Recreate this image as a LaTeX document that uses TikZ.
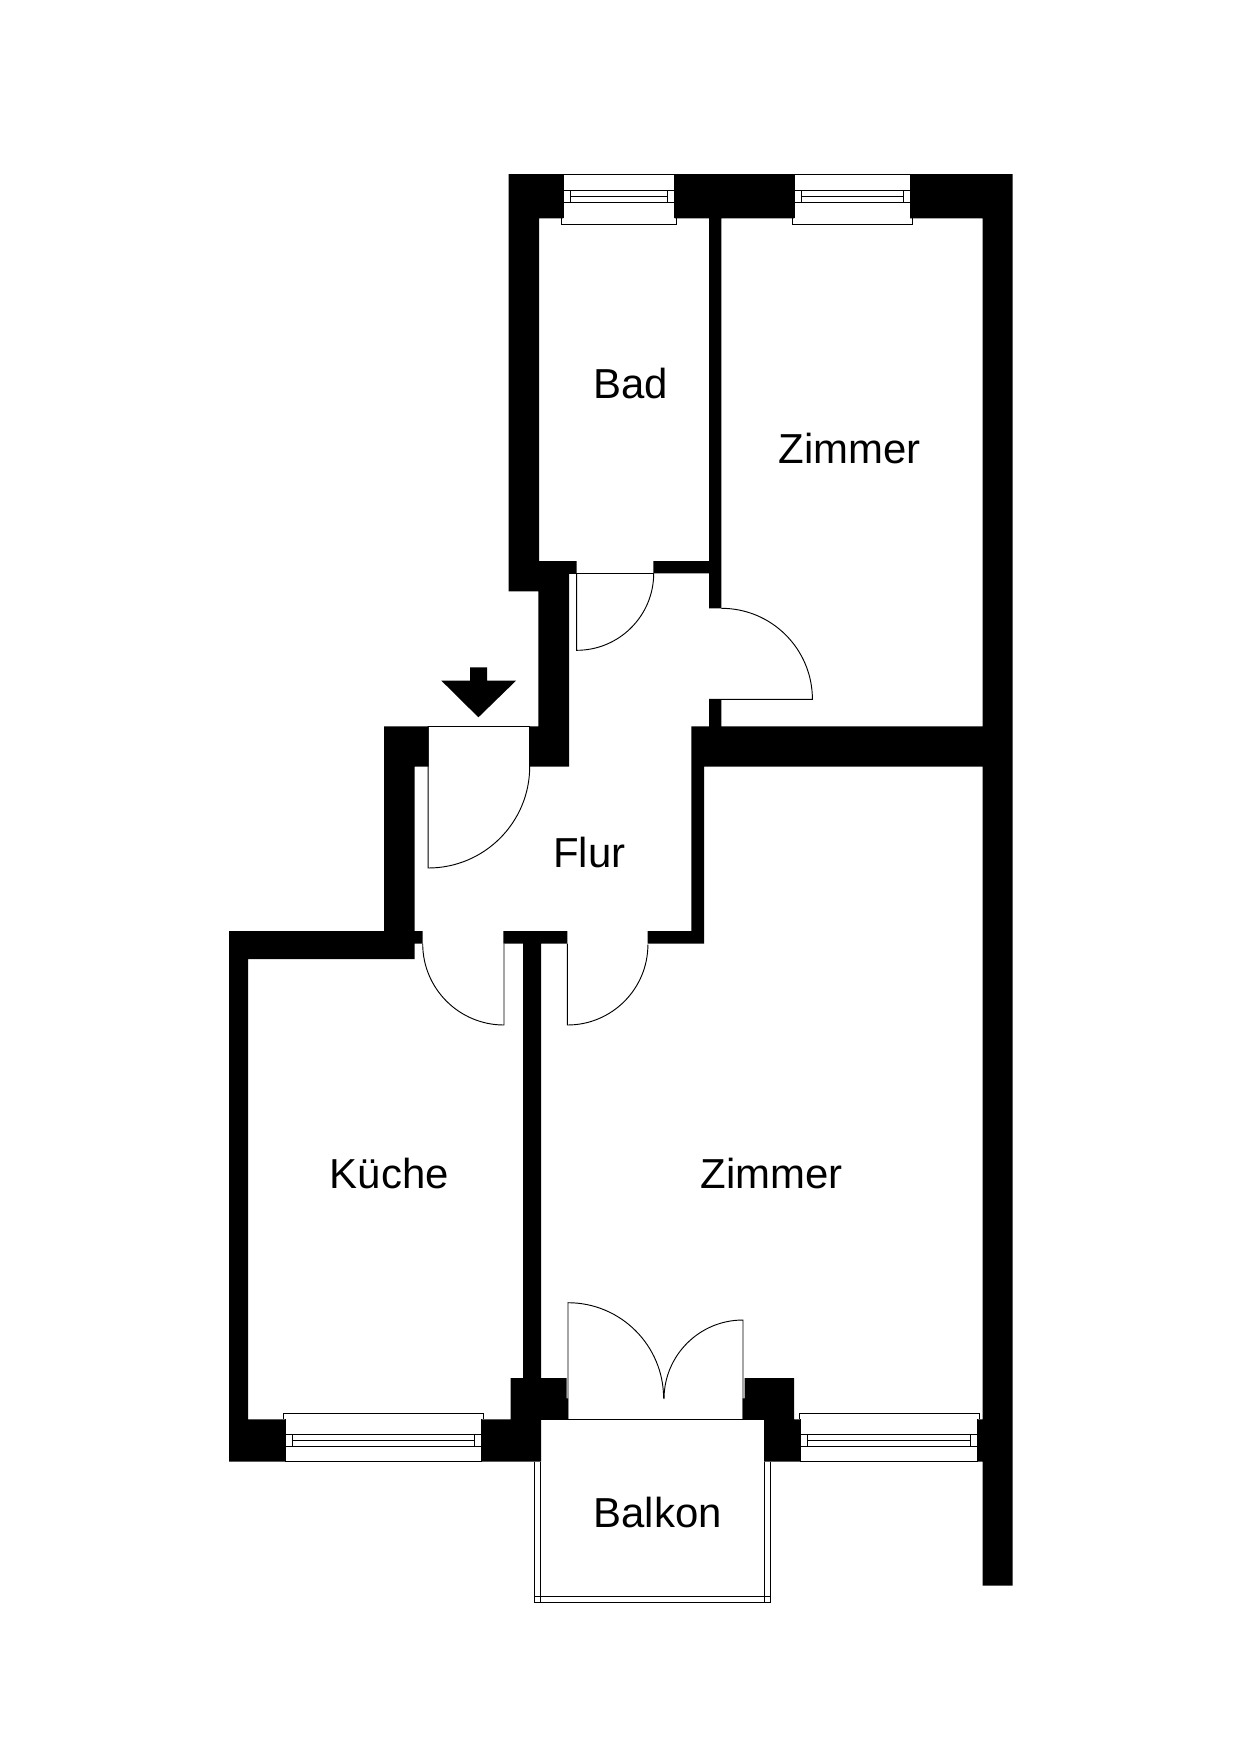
\documentclass[tikz,border=0pt]{standalone}
\usepackage{fontspec}
\setmainfont{Liberation Sans}

\tikzset{
    wall/.style={fill=black},
    thinline/.style={draw=black,line width=0.45pt},
    roomname/.style={anchor=base,font=\fontsize{20.2}{24}\selectfont},
}

\begin{document}
\begin{tikzpicture}[x=0.016933cm,y=-0.016933cm]
        \useasboundingbox (-0.7,0) rectangle (1239.3,1754);
        \fill[wall]
            (507.8,174) rectangle (562.3,218.3)
            (674,174) rectangle (793.3,218.3)
            (909.5,174) rectangle (1012,218.3)
            (981.8,174) rectangle (1012,1585.7)
            (507.8,174) rectangle (538.4,591.3)
            (507.8,561) rectangle (576,573.3)
            (652.7,561) rectangle (708.3,573.3)
            (708.3,174) rectangle (720.7,608.3)
            (708.3,699.3) rectangle (720.7,726.3)
            (537.7,561) rectangle (568.3,766.5)
            (529,726.3) rectangle (568.3,766.5)
            (690.7,726.3) rectangle (1012,766.5)
            (690.7,726.3) rectangle (703.3,943.7)
            (383.5,726.3) rectangle (428,766.5)
            (383.5,726.3) rectangle (414,959)
            (228.3,931) rectangle (414,959)
            (414,931) rectangle (422,943.7)
            (228.3,931) rectangle (247.3,1461.5)
            (502.7,931) rectangle (566.7,943.7)
            (647,931) rectangle (703.3,943.7)
            (522.5,931) rectangle (540.3,1461.5)
            (228.3,1419.3) rectangle (284.3,1461.5)
            (481,1419.3) rectangle (540.3,1461.5)
            (510,1378) rectangle (566,1419.3)
            (566,1398.3) rectangle (567.5,1419.3)
            (744,1378) rectangle (793.5,1419.3)
            (741.9,1398.3) rectangle (744,1419.3)
            (763.5,1419.3) rectangle (800,1461.5)
            (977,1419.3) rectangle (982,1461.5);
        \foreach \xa/\xb in {562.3/674,793.3/909.5}{
            \draw[thinline] (\xa,218.3) -- (\xa,174) -- (\xb,174) -- (\xb,218.3);
            \draw[thinline] (\xa,190.3) -- (\xb,190.3) (\xa,202.3) -- (\xb,202.3);
            \draw[thinline] (\xa+7,190.3) rectangle (\xb-7,202.3);
            \draw[thinline] (\xa+7,196.3) -- (\xb-7,196.3);
            \draw[thinline] (\xa-1.9,218.3) -- (\xa-1.9,224) -- (\xb+1.9,224) -- (\xb+1.9,218.3);
        }
        \foreach \xa/\xb in {284.3/481,800/977}{
            \draw[thinline] (\xa,1419.3) -- (\xa,1461.4) -- (\xb,1461.4) -- (\xb,1419.3);
            \draw[thinline] (\xa,1434.7) -- (\xb,1434.7) (\xa,1446.7) -- (\xb,1446.7);
            \draw[thinline] (\xa+7,1434.7) rectangle (\xb-7,1446.7);
            \draw[thinline] (\xa+7,1440.7) -- (\xb-7,1440.7);
            \draw[thinline] (\xa-1.7,1419.3) -- (\xa-1.7,1413.5) -- (\xb+1.7,1413.5) -- (\xb+1.7,1419.3);
        }
        \draw[thinline] (568.3,573.3) -- (653,573.3);
        \draw[thinline] (576,573.3) -- (576,650.3) arc[start angle=90,end angle=0,radius=77];
        \draw[thinline] (720.7,608.3) arc[start angle=-90,end angle=0,radius=91] -- (708.3,699.3);
        \draw[thinline] (529,766.5) -- (529,726.5) -- (427.5,726.5) -- (427.5,868) arc[start angle=90,end angle=0,radius=101.5];
        \draw[thinline] (422,943.7) arc[start angle=180,end angle=90,radius=81.3] -- (503.3,943.7);
        \draw[thinline] (566.7,943.7) -- (566.7,1025) arc[start angle=90,end angle=0,radius=80.5];
        \draw[thinline] (540.3,1419.3) -- (763.5,1419.3);
        \draw[thinline] (567.3,1419.3) -- (567.3,1302.7) arc[start angle=-90,end angle=0,radius=95.6];
        \draw[thinline] (742.3,1419.3) -- (742.3,1320) arc[start angle=-90,end angle=-180,radius=79];
        \draw[thinline] (533.3,1461.5) -- (533.3,1602.7) -- (769.7,1602.7) -- (769.7,1461.5);
        \draw[thinline] (539.5,1461.5) -- (539.5,1602.7) (763.6,1461.5) -- (763.6,1602.7);
        \draw[thinline] (533.3,1596.7) -- (769.7,1596.7);
        \fill[wall] (469.3,667.3) -- (486.3,667.3) -- (486.3,680.7) -- (515.3,680.7)
            -- (477.7,717.3) -- (440.7,680.7) -- (469.3,680.7) -- cycle;
        \node[roomname] (bad) at (629.7,398.2) {Bad};
        \node[roomname] (zimmerone) at (849,463.2) {Zimmer};
        \node[roomname] (flur) at (588.7,867.4) {Flur};
        \node[roomname] (kueche) at (388.5,1188.4) {Küche};
        \node[roomname] (zimmertwo) at (771,1188.4) {Zimmer};
        \node[roomname] (balkon) at (657,1527.4) {Balkon};
    \end{tikzpicture}
\end{document}
